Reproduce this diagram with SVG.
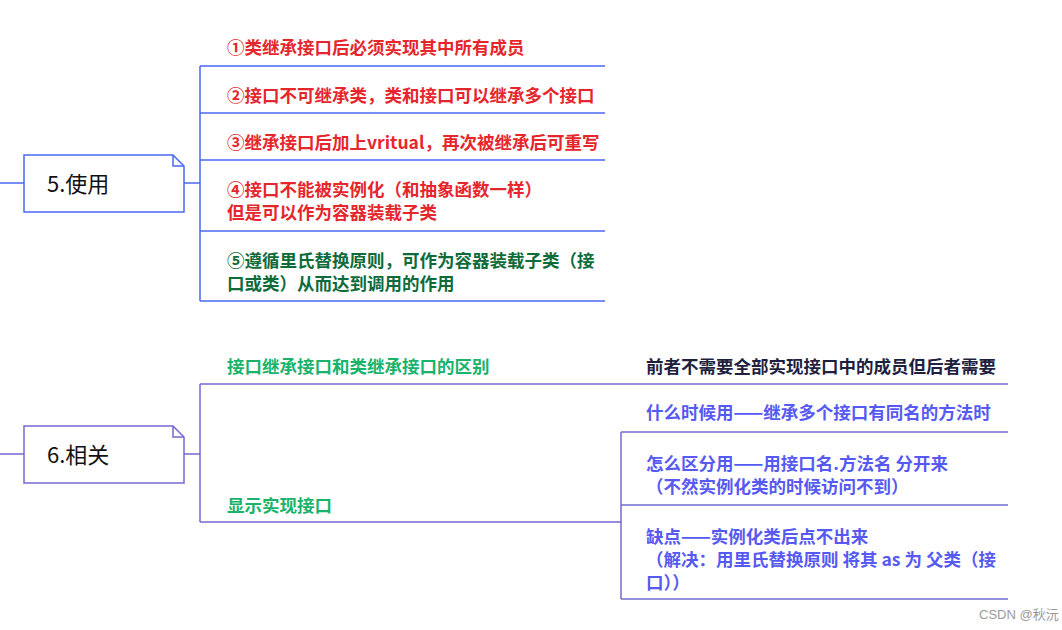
<svg xmlns="http://www.w3.org/2000/svg" width="1062" height="630" viewBox="0 0 1062 630">
<style>
.t{font-family:"Noto Sans CJK SC","Liberation Sans",sans-serif;font-weight:bold;font-size:17.5px}
.n{font-family:"Noto Sans CJK SC","Liberation Sans",sans-serif;font-size:22px;fill:#111}
.b5{stroke:#4a68f5;stroke-width:1.5;fill:none}
.b6{stroke:#7468d2;stroke-width:1.5;fill:none}
.red{fill:#e6262d}
.dg{fill:#0f6b3a}
.g{fill:#19b36b}
.dk{fill:#1f1f3f}
.bl{fill:#5659f2}
</style>
<rect width="1062" height="630" fill="#fff"/>
<g id="connectors">
<path class="b5" d="M0 183H24M184 183H200M200 66V301M200 66H605M200 113H605M200 160H605M200 231H605M200 301H605"/>
<path class="b6" d="M0 454H24M184 454H200M200 384V522M200 384H1008M200 522H621M621 432V599M621 432H1008M621 505H1008M621 599H1008"/>
</g>
<g id="node5">
<path class="b5" d="M24 155H173L184 166V212H24Z" fill="#fff"/>
<path class="b5" d="M173 155V166H184"/>
<text class="n" x="47" y="192">5.使用</text>
</g>
<g id="item1"><text class="t red" x="227" y="53.5">①类继承接口后必须实现其中所有成员</text></g>
<g id="item2"><text class="t red" x="227" y="101.5">②接口不可继承类，类和接口可以继承多个接口</text></g>
<g id="item3"><text class="t red" x="227" y="148.5">③继承接口后加上vritual，再次被继承后可重写</text></g>
<g id="item4"><text class="t red" x="227" y="195.5">④接口不能被实例化（和抽象函数一样）</text><text class="t red" x="227" y="218.5">但是可以作为容器装载子类</text></g>
<g id="item5"><text class="t dg" x="227" y="266.5">⑤遵循里氏替换原则，可作为容器装载子类（接</text><text class="t dg" x="227" y="289.5">口或类）从而达到调用的作用</text></g>
<g id="node6">
<path class="b6" d="M24 426H173L184 437V483H24Z" fill="#fff"/>
<path class="b6" d="M173 426V437H184"/>
<text class="n" x="47" y="463">6.相关</text>
</g>
<g id="diff"><text class="t g" x="227" y="372.5">接口继承接口和类继承接口的区别</text></g>
<g id="diffchild"><text class="t dk" x="646" y="372.5">前者不需要全部实现接口中的成员但后者需要</text></g>
<g id="explicit"><text class="t g" x="227" y="511.5">显示实现接口</text></g>
<g id="when"><text class="t bl" x="646" y="418.5">什么时候用——继承多个接口有同名的方法时</text></g>
<g id="how"><text class="t bl" x="646" y="469.5">怎么区分用——用接口名.方法名 分开来</text><text class="t bl" x="646" y="492.5">（不然实例化类的时候访问不到）</text></g>
<g id="cons"><text class="t bl" x="646" y="542.5">缺点——实例化类后点不出来</text><text class="t bl" x="646" y="565.5">（解决：用里氏替换原则 将其 as 为 父类（接</text><text class="t bl" x="646" y="588.5">口））</text></g>
<text x="979" y="619" font-family="Liberation Sans,Noto Sans CJK SC,sans-serif" font-size="13" fill="#9a9a9a">CSDN @秋沅</text>
</svg>
